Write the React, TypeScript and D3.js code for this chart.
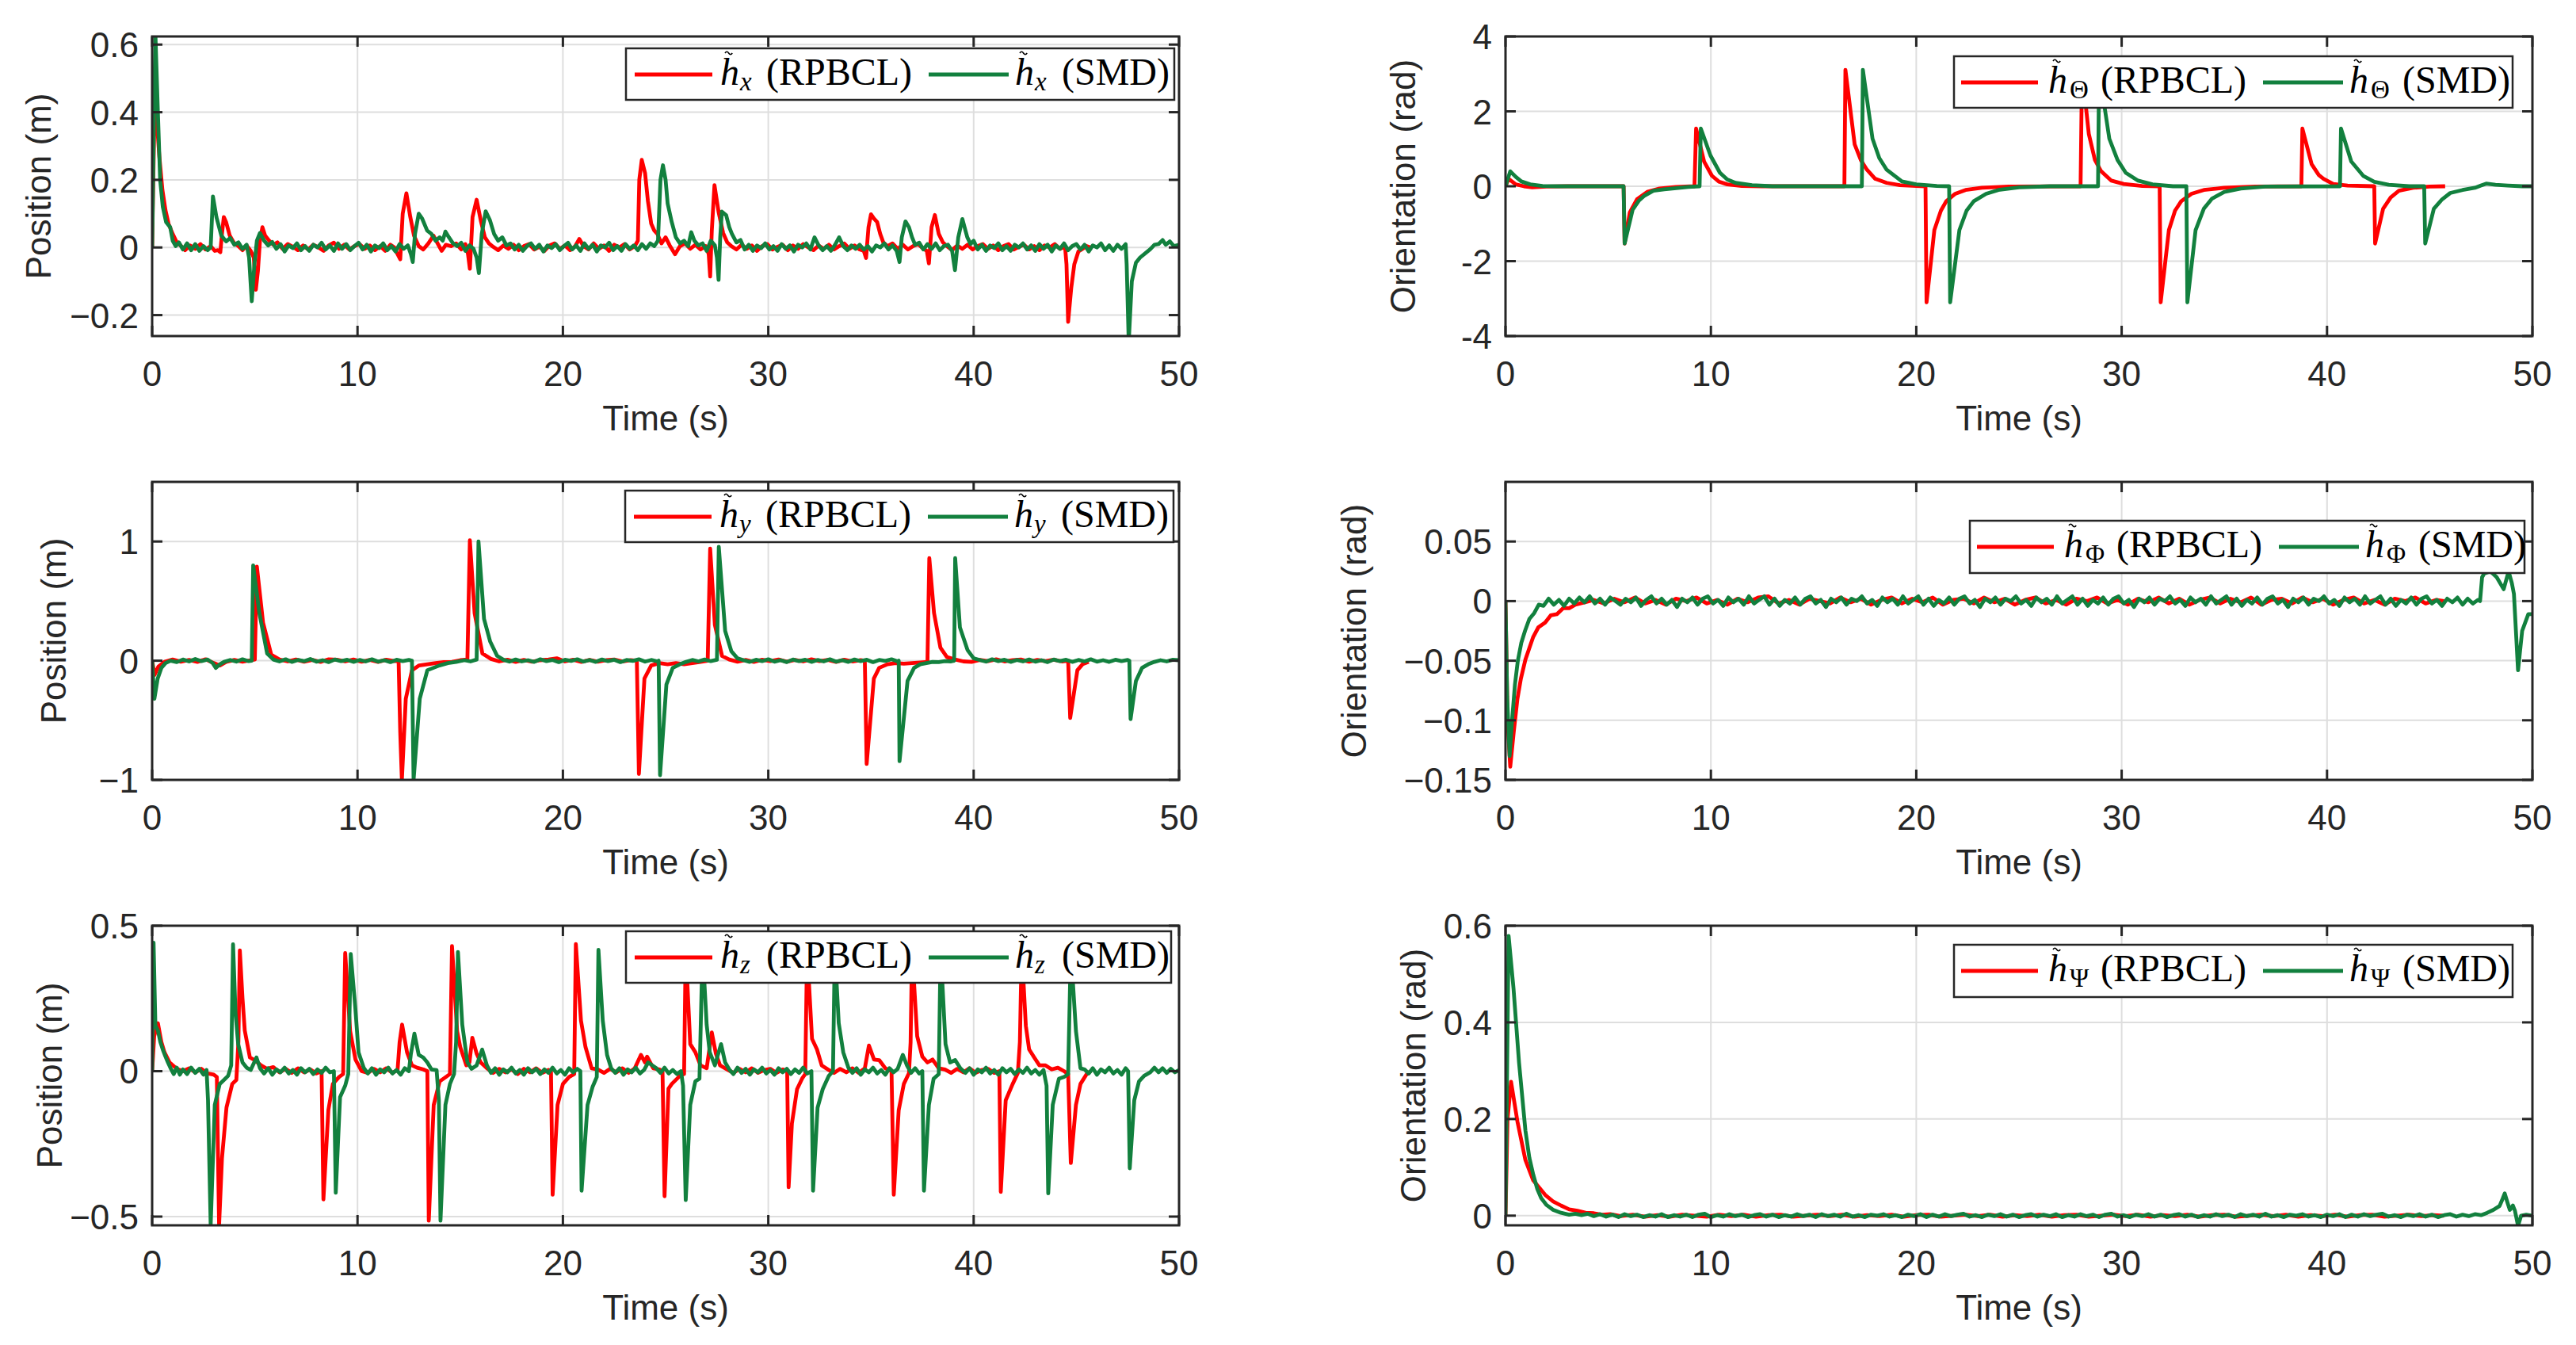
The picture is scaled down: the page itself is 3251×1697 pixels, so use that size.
import React, { useEffect, useRef } from 'react';
import * as d3 from 'd3';

type Pt = [number, number];

// ---- data (time in s, error in m or rad) ----
const timeDomain: [number, number] = [0, 50];
const timeTicks = [0, 10, 20, 30, 40, 50];
const methods = ['RPBCL', 'SMD'];

const hxRpbcl: Pt[] = [
  [0, 0], [0.1, 0.36], [0.2, 0.4], [0.35, 0.27], [0.5, 0.17], [0.65, 0.11], [0.8, 0.07], [1, 0.04], [1.2, 0.015], [1.4, 0.005],
  [1.6, -0.008], [1.85, 0.006], [2.1, -0.004], [2.35, 0.01], [2.6, -0.006], [2.85, 0.004], [3.05, -0.01], [3.2, -0.008], [3.32, -0.014],
  [3.4, 0.04], [3.49, 0.09], [3.6, 0.075], [3.78, 0.035], [4, 0.012], [4.2, 0.004], [4.4, -0.008], [4.6, 0.006], [4.8, -0.01], [4.95, -0.03],
  [5.05, -0.125], [5.15, -0.07], [5.25, 0.02], [5.37, 0.06], [5.5, 0.035], [5.7, 0.02], [5.9, 0.008], [6.1, 0.015],
  [6.35, -0.004], [6.6, 0.01], [6.85, 0.002], [7.1, -0.008], [7.35, 0.006], [7.6, -0.006], [7.85, 0.008], [8.1, 0], [8.35, -0.01], [8.6, 0.006],
  [8.85, 0.014], [9.1, -0.004], [9.35, 0.008], [9.6, -0.006], [9.85, 0.004], [10.1, 0.01], [10.35, -0.004], [10.6, 0.006], [10.85, -0.008],
  [11.1, 0.004], [11.35, -0.01], [11.6, 0.008], [11.8, 0],
  [11.95, -0.02], [12.08, -0.035], [12.2, 0.1], [12.38, 0.16], [12.57, 0.09], [12.75, 0.035], [12.98, 0.004], [13.2, -0.006], [13.45, 0.012],
  [13.7, 0.035], [13.9, 0.012], [14.1, -0.01], [14.3, 0.008], [14.55, 0.004], [14.8, 0.012], [15.05, -0.006], [15.25, 0.01], [15.38, -0.02],
  [15.47, -0.063], [15.6, 0.09], [15.8, 0.141], [16, 0.08], [16.2, 0.03], [16.4, 0.012], [16.6, 0.002], [16.85, -0.008],
  [17.1, 0.006], [17.35, -0.004], [17.6, 0.008], [17.85, -0.008], [18.1, 0.004], [18.35, 0.01], [18.6, -0.006], [18.85, 0.002], [19.1, -0.01],
  [19.35, 0.006], [19.6, 0.012], [19.85, -0.004], [20.1, 0.006], [20.35, -0.008], [20.6, 0.004], [20.8, 0.025], [21, 0.004], [21.25, -0.006],
  [21.5, 0.012], [21.75, -0.004], [22, 0.006], [22.25, -0.01], [22.5, 0.008], [22.75, 0], [23, 0.01], [23.25, -0.006], [23.5, 0.004],
  [23.65, 0.02], [23.72, 0.2], [23.84, 0.259], [24, 0.22], [24.14, 0.137], [24.3, 0.07], [24.45, 0.05], [24.6, 0.04], [24.8, 0.012], [25, 0.03],
  [25.2, 0.006], [25.46, -0.02], [25.7, 0.004], [25.95, 0.012], [26.2, -0.004], [26.45, 0.008], [26.7, -0.006], [26.95, 0.004], [27.1, -0.02],
  [27.17, -0.086], [27.25, 0.05], [27.38, 0.184], [27.58, 0.105], [27.8, 0.043], [28, 0.015], [28.2, 0.004],
  [28.45, -0.006], [28.7, 0.008], [28.95, -0.004], [29.2, 0.006], [29.45, -0.01], [29.7, 0.004], [29.95, 0.01], [30.2, -0.006], [30.45, 0.002],
  [30.7, 0.008], [30.95, -0.008], [31.2, 0.006], [31.45, -0.004], [31.7, 0.01], [31.95, 0], [32.2, -0.008], [32.45, 0.006], [32.7, -0.004],
  [32.95, 0.008], [33.2, -0.006], [33.45, 0.004], [33.7, 0.012], [33.95, -0.004], [34.2, 0.006], [34.45, -0.006], [34.65, -0.01],
  [34.76, -0.031], [34.88, 0.06], [35, 0.098], [35.15, 0.085], [35.3, 0.075], [35.45, 0.04], [35.6, 0.015], [35.8, 0.004], [36.05, 0.012],
  [36.3, -0.004], [36.55, 0.008], [36.8, -0.006], [37.05, 0.004], [37.3, 0.01], [37.55, -0.004], [37.72, -0.01], [37.82, -0.047], [37.95, 0.06],
  [38.11, 0.096], [38.3, 0.04], [38.5, 0.015], [38.7, 0.004], [38.95, -0.008], [39.2, 0.006], [39.45, -0.004], [39.7, 0.008], [39.95, -0.006],
  [40.2, 0.004], [40.45, 0.01], [40.7, -0.004], [40.95, 0.006], [41.2, -0.008], [41.45, 0.004], [41.7, 0.01], [41.95, -0.006], [42.2, 0.002],
  [42.45, 0.008], [42.7, -0.006], [42.95, 0.004], [43.2, -0.008], [43.45, 0.006], [43.7, 0], [43.95, 0.01], [44.2, -0.004], [44.45, 0.002],
  [44.52, -0.05], [44.6, -0.22], [44.75, -0.12], [44.9, -0.05], [45.1, -0.012], [45.3, -0.004], [45.5, 0.004], [45.7, 0],
];

const hxSmd: Pt[] = [
  [0, 0], [0.08, 0.35], [0.16, 0.63], [0.28, 0.4], [0.39, 0.2], [0.52, 0.12], [0.68, 0.075], [0.88, 0.06], [1, 0.02], [1.15, 0.004],
  [1.3, 0.015], [1.5, -0.006], [1.7, 0.012], [1.9, -0.008], [2.1, 0.01], [2.3, -0.01], [2.5, 0.004], [2.7, -0.008], [2.85, 0],
  [2.96, 0.151], [3.13, 0.09], [3.37, 0.035], [3.6, 0.018], [3.8, 0.028], [4, 0.008], [4.2, 0.015], [4.4, -0.004], [4.6, 0.008],
  [4.72, -0.03], [4.85, -0.159], [4.98, -0.05], [5.1, 0.02], [5.25, 0.043], [5.45, 0.02], [5.65, 0.006], [5.85, 0.016],
  [6.05, -0.004], [6.25, 0.01], [6.45, -0.012], [6.65, 0.006], [6.85, -0.002], [7.05, 0.012], [7.25, -0.008], [7.45, 0.004], [7.65, -0.01],
  [7.85, 0.008], [8.05, 0], [8.25, 0.014], [8.45, -0.006], [8.65, 0.006], [8.85, -0.01], [9.05, 0.012], [9.25, -0.004], [9.45, 0.01],
  [9.65, -0.008], [9.85, 0.004], [10.05, 0.014], [10.25, -0.006], [10.45, 0.008], [10.65, -0.012], [10.85, 0.006], [11.05, -0.002],
  [11.25, 0.012], [11.45, -0.008], [11.65, 0.004], [11.85, -0.012], [12.05, 0.01], [12.25, -0.004], [12.45, 0.006],
  [12.6, -0.02], [12.69, -0.043], [12.8, 0.04], [12.98, 0.1], [13.15, 0.085], [13.39, 0.05], [13.6, 0.04], [13.8, 0.02], [14, 0.03],
  [14.15, 0.02], [14.28, 0.047], [14.45, 0.03], [14.65, 0.012], [14.85, 0.004], [15.05, 0.014], [15.25, -0.01], [15.45, 0.006],
  [15.65, -0.004], [15.8, -0.03], [15.91, -0.076], [16.05, 0.04], [16.24, 0.107], [16.45, 0.08], [16.65, 0.04], [16.85, 0.02],
  [17.05, 0.03], [17.25, 0.006],
  [17.45, 0.012], [17.65, -0.006], [17.85, 0.008], [18.05, -0.01], [18.25, 0.004], [18.45, 0.012], [18.65, -0.004], [18.85, 0.008],
  [19.05, -0.012], [19.25, 0.006], [19.45, -0.002], [19.65, 0.01], [19.85, -0.008], [20.05, 0.004], [20.25, 0.014], [20.45, -0.006],
  [20.65, 0.006], [20.85, -0.01], [21.05, 0.012], [21.25, -0.004], [21.45, 0.008], [21.65, -0.012], [21.85, 0.006], [22.05, 0],
  [22.25, 0.014], [22.45, -0.008], [22.65, 0.004], [22.85, -0.01], [23.05, 0.01], [23.25, -0.004], [23.45, 0.006], [23.65, -0.008],
  [23.85, 0.01], [24.05, -0.004], [24.25, 0.012], [24.45, 0.004],
  [24.63, 0.02], [24.75, 0.2], [24.87, 0.243], [25, 0.2], [25.1, 0.13], [25.3, 0.075], [25.5, 0.03], [25.7, 0.012], [25.9, 0.02],
  [26.1, 0.004], [26.25, 0.045], [26.4, 0.02], [26.6, 0.006], [26.8, 0.012], [27, -0.01], [27.2, 0.02], [27.4, 0.006], [27.5, -0.03],
  [27.58, -0.096], [27.66, 0.03], [27.74, 0.106], [27.95, 0.095], [28.1, 0.06], [28.23, 0.04], [28.45, 0.015], [28.65, 0.022],
  [28.85, -0.006], [29.05, 0.008], [29.25, -0.01], [29.45, 0.006], [29.65, -0.002], [29.85, 0.012], [30.05, -0.006], [30.25, 0.004],
  [30.45, -0.01], [30.65, 0.01], [30.85, -0.004], [31.05, 0.006], [31.25, -0.012], [31.45, 0.008], [31.65, 0], [31.85, 0.012],
  [32.05, -0.006], [32.25, 0.03], [32.45, 0.006], [32.65, -0.008], [32.85, 0.004], [33.05, -0.01], [33.25, 0.008], [33.45, 0.03],
  [33.65, 0.004], [33.85, -0.008], [34.05, 0.006], [34.25, -0.004], [34.45, 0.008], [34.65, -0.006], [34.85, 0.004], [35.05, -0.012],
  [35.25, 0.006], [35.45, 0], [35.65, 0.012], [35.85, -0.006], [36.05, 0.006], [36.25, -0.01],
  [36.39, -0.043], [36.5, 0.03], [36.68, 0.077], [36.85, 0.06], [37, 0.03], [37.15, 0.008], [37.35, 0.014], [37.55, -0.006],
  [37.75, 0.01], [37.95, -0.004], [38.15, 0.012], [38.35, -0.008], [38.55, 0.004], [38.75, 0.008], [38.95, -0.01], [39.09, -0.067],
  [39.25, 0.03], [39.45, 0.084], [39.6, 0.05], [39.69, 0.03], [39.85, 0.01], [40, 0.02],
  [40.2, -0.006], [40.4, 0.008], [40.6, -0.01], [40.8, 0.006], [41, -0.002], [41.2, 0.012], [41.4, -0.008], [41.6, 0.004], [41.8, -0.01],
  [42, 0.008], [42.2, 0], [42.4, 0.012], [42.6, -0.006], [42.8, 0.006], [43, -0.01], [43.2, 0.01], [43.4, -0.004], [43.6, 0.008],
  [43.8, -0.012], [44, 0.006], [44.2, -0.004], [44.4, 0.012], [44.6, -0.008], [44.8, 0.004], [45, 0.01], [45.2, -0.006], [45.4, 0.008],
  [45.6, -0.012], [45.8, 0.006], [46, 0], [46.2, 0.012], [46.4, -0.008], [46.6, 0.006], [46.8, -0.01], [47, 0.008], [47.2, -0.004],
  [47.4, 0.01],
  [47.45, -0.05], [47.55, -0.28], [47.7, -0.1], [47.9, -0.045], [48.1, -0.03], [48.4, -0.015], [48.6, -0.005], [48.8, 0.008], [49, 0.01],
  [49.2, 0.022], [49.35, 0.008], [49.55, 0.018], [49.75, 0.004], [50, 0.008],
];

const hyRpbcl: Pt[] = [
  [0, 0], [0.12, -0.12], [0.3, -0.05], [0.6, -0.01], [1, 0.01], [1.4, -0.008], [1.8, 0.006], [2.2, -0.01], [2.6, 0.012], [3, -0.02],
  [3.3, -0.04], [3.6, -0.01], [4, 0.006], [4.4, -0.008], [4.8, 0.004], [5, 0.01], [5.1, 0.79], [5.4, 0.32], [5.8, 0.05], [6.2, 0.01],
  [6.6, -0.006], [7, 0.01], [7.4, -0.008], [7.8, 0.006], [8.2, -0.01], [8.6, 0.012], [9, 0.008], [9.4, -0.006], [9.8, 0.01],
  [10.2, -0.008], [10.6, 0.006], [11, -0.01], [11.4, 0.008], [11.8, -0.004], [12, 0], [12.08, -0.6], [12.16, -1.0], [12.35, -0.32],
  [12.65, -0.08], [13, -0.04], [13.4, -0.03], [13.8, -0.02], [14.2, -0.012], [14.6, -0.01], [15, 0.004], [15.35, 0.01], [15.47, 1.01],
  [15.7, 0.4], [16.08, 0.06], [16.5, 0.015], [16.9, -0.006], [17.3, 0.008], [17.7, -0.01], [18.1, 0.006], [18.5, -0.008], [18.9, 0.004],
  [19.3, 0.01], [19.7, 0.02], [20.1, -0.006], [20.5, 0.008], [20.9, -0.01], [21.3, 0.006], [21.7, -0.008], [22.1, 0.004], [22.5, 0.01],
  [22.9, -0.006], [23.3, 0.004], [23.6, 0], [23.7, -0.95], [23.97, -0.15], [24.3, -0.04], [24.7, -0.02], [25.1, -0.03], [25.5, -0.02],
  [25.9, -0.03], [26.3, -0.02], [26.7, -0.01], [27.05, 0], [27.17, 0.94], [27.4, 0.3], [27.75, 0.04], [28.1, 0.01], [28.5, -0.008],
  [28.9, 0.006], [29.3, -0.01], [29.7, 0.008], [30.1, -0.004], [30.5, 0.01], [30.9, -0.008], [31.3, 0.006], [31.7, -0.006], [32.1, 0.012],
  [32.5, -0.004], [32.9, 0.006], [33.3, -0.01], [33.7, 0.008], [34.1, -0.006], [34.5, 0.004], [34.7, 0], [34.79, -0.866], [35.14, -0.15],
  [35.4, -0.06], [35.8, -0.03], [36.2, -0.02], [36.6, -0.025], [37, -0.02], [37.4, -0.015], [37.75, -0.01], [37.84, 0.86], [38.07, 0.4],
  [38.38, 0.11], [38.7, 0.03], [39.1, 0.01], [39.5, -0.006], [39.9, -0.01], [40.3, 0.006], [40.7, -0.004], [41.1, 0.012], [41.5, -0.006],
  [41.9, 0.004], [42.3, 0.01], [42.7, -0.008], [43.1, 0.006], [43.5, -0.004], [43.9, 0.008], [44.3, -0.006], [44.6, 0], [44.7, -0.48],
  [45.05, -0.08], [45.3, -0.03], [45.6, -0.01],
];

const hySmd: Pt[] = [
  [0, 0], [0.11, -0.32], [0.27, -0.15], [0.45, -0.06], [0.65, -0.02], [0.9, 0], [1.2, -0.012], [1.5, 0.01], [1.8, -0.006], [2.1, 0.014],
  [2.4, -0.004], [2.7, 0.01], [2.95, -0.02], [3.1, -0.06], [3.3, -0.03], [3.5, -0.01], [3.8, 0.006], [4.1, -0.008], [4.4, 0.012],
  [4.7, -0.004], [4.85, 0], [4.92, 0.8], [5.22, 0.4], [5.6, 0.06], [5.9, 0.01], [6.2, -0.006], [6.5, 0.012], [6.8, -0.01], [7.1, 0.006],
  [7.4, -0.004], [7.7, 0.014], [8, -0.008], [8.3, 0.004], [8.6, -0.012], [8.9, 0.01], [9.2, -0.004], [9.5, 0.008], [9.8, -0.01],
  [10.1, 0.006], [10.4, -0.006], [10.7, 0.012], [11, -0.008], [11.3, 0.004], [11.6, -0.012], [11.9, 0.008], [12.2, -0.004], [12.5, 0.006],
  [12.65, 0], [12.73, -1.0], [13.03, -0.32], [13.4, -0.08], [13.99, -0.04], [14.4, -0.02], [14.8, -0.01], [15.2, 0.004], [15.5, -0.006],
  [15.8, 0.01], [15.89, 1.0], [16.16, 0.35], [16.46, 0.16], [16.8, 0.04], [17.1, 0.008], [17.4, -0.008], [17.7, 0.01], [18, -0.006],
  [18.3, 0.004], [18.6, -0.01], [18.9, 0.012], [19.2, -0.004], [19.5, 0.006], [19.8, -0.012], [20.1, 0.008], [20.4, -0.002], [20.7, 0.012],
  [21, -0.008], [21.3, 0.006], [21.6, -0.01], [21.9, 0.01], [22.2, -0.004], [22.5, 0.008], [22.8, -0.012], [23.1, 0.006], [23.4, -0.002],
  [23.7, 0.012], [24, -0.008], [24.3, 0.006], [24.6, -0.006], [24.66, 0], [24.73, -0.96], [25.04, -0.2], [25.35, -0.06], [25.7, -0.03],
  [26, -0.01], [26.3, 0.006], [26.6, -0.006], [26.9, 0.01], [27.2, -0.004], [27.5, 0.008], [27.59, 0.955], [27.9, 0.25], [28.2, 0.08],
  [28.5, 0.02], [28.8, 0.004], [29.1, -0.01], [29.4, 0.008], [29.7, -0.004], [30, 0.012], [30.3, -0.008], [30.6, 0.004], [30.9, -0.012],
  [31.2, 0.01], [31.5, -0.004], [31.8, 0.008], [32.1, -0.01], [32.4, 0.006], [32.7, -0.006], [33, 0.012], [33.3, -0.008], [33.6, 0.004],
  [33.9, -0.01], [34.2, 0.01], [34.5, -0.004], [34.8, 0.008], [35.1, -0.012], [35.4, 0.006], [35.7, -0.002], [36, 0.012], [36.3, -0.006],
  [36.35, 0], [36.39, -0.843], [36.78, -0.17], [37.1, -0.06], [37.4, -0.03], [37.7, -0.02], [38, -0.01], [38.3, -0.012], [38.6, -0.004],
  [38.9, -0.006], [39.05, 0], [39.1, 0.86], [39.33, 0.28], [39.7, 0.09], [40, 0.02], [40.3, 0.006], [40.6, -0.008], [40.9, 0.012],
  [41.2, -0.004], [41.5, 0.008], [41.8, -0.01], [42.1, 0.006], [42.4, -0.006], [42.7, 0.01], [43, -0.008], [43.3, 0.004], [43.6, -0.012],
  [43.9, 0.01], [44.2, -0.004], [44.5, 0.008], [44.8, -0.01], [45.1, 0.006], [45.4, -0.006], [45.7, 0.012], [46, -0.008], [46.3, 0.004],
  [46.6, -0.01], [46.9, 0.008], [47.2, -0.004], [47.5, 0.006], [47.58, 0], [47.64, -0.49], [47.9, -0.17], [48.2, -0.06], [48.5, -0.03],
  [48.8, -0.01], [49.1, 0.004], [49.4, -0.006], [49.7, 0.008], [50, 0.004],
];

const hzRpbcl: Pt[] = [
  [0, 0], [0.1, 0.12], [0.28, 0.165], [0.45, 0.1], [0.6, 0.065], [0.85, 0.03], [1.2, 0.008], [1.5, 0], [1.8, 0.01], [2.1, -0.004],
  [2.4, 0.008], [2.7, -0.008], [3, -0.012], [3.15, -0.02], [3.26, -0.53], [3.4, -0.3], [3.62, -0.125], [3.9, -0.044], [4.1, -0.03],
  [4.2, 0.1], [4.27, 0.415], [4.4, 0.25], [4.51, 0.14], [4.76, 0.047], [5, 0.038], [5.3, 0.02], [5.6, 0.008], [5.9, 0.014], [6.2, -0.004],
  [6.5, 0.008], [6.8, -0.006], [7.1, 0.01], [7.4, -0.004], [7.7, 0.006], [8, -0.008], [8.25, 0], [8.34, -0.441], [8.58, -0.134],
  [8.8, -0.044], [9.1, -0.02], [9.3, -0.01], [9.4, 0.406], [9.64, 0.138], [9.9, 0.04], [10.2, 0], [10.5, -0.006], [10.8, 0.008],
  [11.1, -0.004], [11.4, 0.01], [11.7, -0.006], [11.95, 0.004], [12.05, 0.1], [12.17, 0.16], [12.41, 0.065], [12.65, 0.02], [12.9, 0.012],
  [13.2, 0.006], [13.4, 0], [13.47, -0.514], [13.71, -0.116], [14, -0.035], [14.3, -0.02], [14.5, -0.01], [14.6, 0.43], [14.85, 0.138],
  [15, 0.083], [15.3, 0.02], [15.45, 0.03], [15.59, 0.115], [15.8, 0.06], [16, 0.03], [16.3, 0.01], [16.6, -0.006], [16.9, 0.008],
  [17.2, -0.004], [17.5, 0.006], [17.8, -0.01], [18.1, 0.008], [18.4, -0.004], [18.7, 0.01], [19, -0.006], [19.3, 0.004], [19.42, 0],
  [19.5, -0.425], [19.74, -0.116], [20, -0.044], [20.3, -0.02], [20.55, -0.01], [20.63, 0.437], [20.88, 0.174], [21.1, 0.083],
  [21.4, 0.01], [21.7, 0.006], [22, -0.006], [22.3, 0.008], [22.6, -0.004], [22.9, 0.01], [23.2, -0.006], [23.5, 0.01], [23.8, 0.056],
  [24, 0.03], [24.1, 0.05], [24.4, 0.01], [24.7, 0.006], [24.85, 0], [24.95, -0.43], [25.14, -0.06], [25.3, -0.044], [25.7, -0.016],
  [25.9, -0.01], [25.98, 0.42], [26.2, 0.093], [26.45, 0.065], [26.7, 0.02], [27, 0.01], [27.25, 0.133], [27.45, 0.06], [27.65, 0.02],
  [28, 0.006], [28.3, -0.006], [28.6, 0.008], [28.9, -0.004], [29.2, 0.01], [29.5, -0.006], [29.8, 0.004], [30.1, 0.008], [30.4, -0.006],
  [30.7, 0.006], [30.92, 0], [30.99, -0.399], [31.15, -0.18], [31.4, -0.062], [31.65, -0.025], [31.8, -0.01], [31.89, 0.42],
  [32.13, 0.111], [32.37, 0.075], [32.6, 0.02], [32.9, 0.006], [33.2, -0.006], [33.5, 0.008], [33.8, -0.004], [34.1, 0.01],
  [34.4, -0.006], [34.7, 0.01], [34.9, 0.088], [35.15, 0.04], [35.4, 0.038], [35.7, 0.01], [36, 0], [36.11, -0.425], [36.35, -0.134],
  [36.6, -0.044], [36.85, -0.007], [36.93, 0.1], [37, 0.42], [37.25, 0.12], [37.5, 0.05], [37.75, 0.03], [38, 0.04], [38.3, 0.01],
  [38.6, 0.006], [38.9, -0.006], [39.2, 0.008], [39.5, -0.004], [39.8, 0.01], [40.1, -0.006], [40.4, 0.004], [40.7, 0.008], [41, -0.006],
  [41.25, 0], [41.32, -0.415], [41.56, -0.1], [41.9, -0.044], [42.15, -0.007], [42.25, 0.1], [42.34, 0.42], [42.54, 0.156], [42.7, 0.075],
  [42.95, 0.047], [43.2, 0.02], [43.5, 0.02], [43.8, 0.006], [44.1, 0.012], [44.4, 0], [44.6, -0.01], [44.73, -0.316], [44.98, -0.116],
  [45.2, -0.044], [45.5, -0.01], [45.7, 0],
];

const hzSmd: Pt[] = [
  [0, 0], [0.07, 0.442], [0.16, 0.156], [0.28, 0.14], [0.4, 0.1], [0.52, 0.074], [0.65, 0.05], [0.77, 0.03], [0.9, 0.01], [1.05, -0.01],
  [1.2, 0.012], [1.35, -0.012], [1.5, 0.006], [1.7, -0.01], [1.9, 0.012], [2.1, -0.006], [2.3, 0.008], [2.5, -0.012], [2.65, 0.004],
  [2.72, -0.1], [2.85, -0.53], [3.05, -0.116], [3.29, -0.044], [3.5, -0.03], [3.7, -0.016], [3.85, 0.02], [3.94, 0.436], [4.06, 0.2],
  [4.19, 0.093], [4.4, 0.03], [4.6, 0.012], [4.8, 0.004], [5.08, 0.047], [5.25, 0.01], [5.45, -0.008], [5.65, 0.01], [5.85, -0.012],
  [6.05, 0.006], [6.25, -0.004], [6.45, 0.012], [6.65, -0.008], [6.85, 0.004], [7.05, -0.012], [7.25, 0.01], [7.45, -0.004], [7.65, 0.008],
  [7.85, -0.01], [8.05, 0.006], [8.25, -0.006], [8.45, 0.012], [8.65, -0.004], [8.85, 0], [8.94, -0.418], [9.15, -0.089], [9.4, -0.05],
  [9.55, -0.01], [9.67, 0.403], [9.89, 0.22], [10.05, 0.065], [10.3, 0.012], [10.5, -0.008], [10.7, 0.01], [10.9, -0.012], [11.1, 0.006],
  [11.3, -0.004], [11.5, 0.012], [11.7, -0.008], [11.9, 0.004], [12.1, -0.012], [12.3, 0.01], [12.5, 0], [12.6, 0.06], [12.77, 0.129],
  [12.98, 0.056], [13.2, 0.047], [13.4, 0.03], [13.6, 0.006], [13.85, 0.004], [13.96, -0.1], [14.04, -0.514], [14.28, -0.116],
  [14.5, -0.044], [14.7, -0.01], [14.8, 0.1], [14.89, 0.41], [15.1, 0.16], [15.35, 0.03], [15.55, 0.008], [15.8, 0.02], [16.07, 0.074],
  [16.3, 0.02], [16.5, -0.006], [16.7, 0.01], [16.9, -0.012], [17.1, 0.006], [17.3, -0.004], [17.5, 0.012], [17.7, -0.008], [17.9, 0.004],
  [18.1, -0.012], [18.3, 0.01], [18.5, -0.004], [18.7, 0.008], [18.9, -0.01], [19.1, 0.006], [19.3, -0.006], [19.5, 0.012], [19.7, -0.008],
  [19.9, 0.004], [20.1, -0.012], [20.3, 0.01], [20.5, -0.004], [20.7, 0.008], [20.85, 0], [20.91, -0.411], [21.2, -0.116], [21.45, -0.053],
  [21.65, -0.02], [21.73, 0.417], [21.94, 0.174], [22.15, 0.056], [22.35, 0.01], [22.55, -0.006], [22.75, 0.01], [22.95, -0.012],
  [23.15, 0.006], [23.35, -0.004], [23.55, 0.012], [23.75, -0.008], [23.95, 0.004], [24.15, 0.03], [24.35, 0.02], [24.55, 0.01],
  [24.75, -0.006], [24.95, 0.012], [25.15, -0.008], [25.35, 0.004], [25.55, -0.01], [25.75, 0], [25.85, -0.05], [25.98, -0.443],
  [26.2, -0.116], [26.45, -0.035], [26.65, -0.026], [26.8, 0.42], [27, 0.16], [27.15, 0.065], [27.4, 0.02], [27.7, 0.093], [27.9, 0.03],
  [28.1, 0.006], [28.3, -0.01], [28.5, 0.012], [28.7, -0.006], [28.9, 0.008], [29.1, -0.012], [29.3, 0.006], [29.5, -0.004], [29.7, 0.012],
  [29.9, -0.008], [30.1, 0.004], [30.3, -0.012], [30.5, 0.01], [30.7, -0.004], [30.9, 0.008], [31.1, -0.01], [31.3, 0.006], [31.5, -0.006],
  [31.7, 0.012], [31.9, -0.008], [32.1, 0], [32.18, -0.411], [32.4, -0.126], [32.65, -0.062], [32.95, -0.016], [33.15, 0], [33.24, 0.42],
  [33.43, 0.165], [33.65, 0.065], [33.9, 0.012], [34.1, -0.006], [34.3, 0.01], [34.5, -0.012], [34.7, 0.006], [34.9, -0.004],
  [35.1, 0.012], [35.3, -0.008], [35.5, 0.004], [35.7, -0.012], [35.9, 0.01], [36.1, -0.004], [36.3, 0.008], [36.55, 0.056], [36.75, 0.02],
  [36.95, -0.006], [37.15, 0.01], [37.35, -0.008], [37.5, 0], [37.58, -0.411], [37.82, -0.116], [38.05, -0.026], [38.3, -0.01],
  [38.39, 0.42], [38.63, 0.093], [38.85, 0.03], [39.1, 0.038], [39.35, 0.01], [39.6, -0.006], [39.8, 0.01], [40, -0.012], [40.2, 0.006],
  [40.4, -0.004], [40.6, 0.012], [40.8, -0.008], [41, 0.004], [41.2, -0.012], [41.4, 0.01], [41.6, -0.004], [41.8, 0.008], [42, -0.01],
  [42.2, 0.006], [42.4, -0.006], [42.6, 0.012], [42.8, -0.008], [43, 0.004], [43.2, -0.012], [43.4, 0.004], [43.55, -0.05], [43.63, -0.42],
  [43.85, -0.116], [44.15, -0.026], [44.4, -0.02], [44.6, -0.01], [44.73, 0.42], [44.98, 0.138], [45.2, 0.01], [45.4, 0.006],
  [45.6, -0.008], [45.8, 0.01], [46, -0.012], [46.2, 0.006], [46.4, -0.004], [46.6, 0.012], [46.8, -0.008], [47, 0.004], [47.2, -0.012],
  [47.4, 0.01], [47.52, 0], [47.6, -0.334], [47.82, -0.1], [48.05, -0.035], [48.3, -0.016], [48.6, -0.004], [48.8, 0.012], [49, -0.004],
  [49.2, 0.01], [49.4, -0.006], [49.6, 0.008], [49.8, -0.004], [50, 0.004],
];

const thetaRpbcl: Pt[] = [
  [0, 0], [0.15, 0.2], [0.5, 0.05], [0.9, 0], [1.3, -0.03], [2, -0.01], [3, 0], [5.75, 0], [5.8, -1.53], [6.05, -0.7], [6.4, -0.35],
  [6.9, -0.15], [7.5, -0.06], [8.3, -0.02], [9.2, 0], [9.28, 1.54], [9.67, 0.66], [10.05, 0.28], [10.4, 0.12], [10.8, 0.05], [11.5, 0.01],
  [12.5, 0], [16.5, 0], [16.55, 3.11], [17, 1.12], [17.3, 0.7], [17.6, 0.44], [18, 0.2], [18.56, 0.09], [19.2, 0.03], [20, 0.01],
  [20.45, 0], [20.5, -3.1], [20.88, -1.17], [21.2, -0.65], [21.46, -0.4], [21.9, -0.2], [22.4, -0.1], [23.2, -0.04], [24.5, -0.01],
  [28, 0], [28.07, 3.1], [28.4, 1.4], [28.7, 0.7], [29, 0.4], [29.5, 0.15], [30.1, 0.06], [31, 0.01], [31.85, 0], [31.9, -3.1],
  [32.3, -1.17], [32.6, -0.65], [32.9, -0.4], [33.4, -0.2], [34, -0.1], [35, -0.04], [36.5, -0.01], [38.75, 0], [38.8, 1.54],
  [39.25, 0.59], [39.6, 0.3], [39.83, 0.2], [40.3, 0.06], [41, 0.02], [42.3, 0], [42.34, -1.53], [42.73, -0.6], [43.1, -0.3],
  [43.5, -0.12], [44.2, -0.04], [45, -0.01], [45.75, 0],
];

const thetaSmd: Pt[] = [
  [0, 0], [0.23, 0.4], [0.5, 0.25], [0.77, 0.13], [1.2, 0.05], [1.8, 0.01], [2.5, 0], [5.75, 0], [5.8, -1.53], [6.19, -0.63],
  [6.5, -0.38], [6.77, -0.25], [7.2, -0.12], [7.73, -0.08], [8.9, -0.02], [9.45, 0], [9.51, 1.54], [9.98, 0.82], [10.44, 0.36],
  [10.8, 0.18], [11.2, 0.09], [12, 0.03], [13, 0], [17.35, 0], [17.4, 3.11], [17.87, 1.27], [18.2, 0.75], [18.56, 0.44], [19.3, 0.13],
  [20, 0.05], [21, 0.01], [21.6, 0], [21.65, -3.1], [22.1, -1.17], [22.45, -0.65], [22.8, -0.4], [23.4, -0.2], [24, -0.1], [25, -0.03],
  [26.5, 0], [28.85, 0], [28.9, 3.1], [29.4, 1.27], [29.8, 0.7], [30.2, 0.36], [30.8, 0.15], [31.5, 0.05], [32.5, 0], [33.15, 0],
  [33.2, -3.1], [33.6, -1.17], [34, -0.6], [34.4, -0.33], [35, -0.15], [35.8, -0.06], [37, -0.01], [40.63, 0], [40.68, 1.54],
  [41.18, 0.66], [41.76, 0.28], [42.3, 0.12], [43, 0.04], [44, 0], [44.73, 0], [44.78, -1.53], [45.2, -0.6], [45.6, -0.35], [46, -0.18],
  [46.6, -0.1], [47.2, -0.04], [47.5, 0.02], [47.75, 0.07], [48.2, 0.04], [48.8, 0.02], [49.5, 0], [50, 0],
];

const phiRpbcl: Pt[] = [
  [0, 0], [0.1, -0.1], [0.23, -0.139], [0.4, -0.11], [0.58, -0.082], [0.75, -0.065], [0.97, -0.049], [1.15, -0.04], [1.35, -0.03],
  [1.6, -0.022], [1.93, -0.018], [2.2, -0.012], [2.5, -0.011], [2.8, -0.006], [3.1, -0.006], [3.4, -0.003], [3.87, -0.001],
  [4.3, 0.001], [4.8, -0.002], [5.3, 0.002], [5.8, -0.001], [6.3, 0.003], [6.8, -0.002], [7.3, 0.001], [7.8, -0.003], [8.3, 0.002],
  [8.8, 0], [9.3, 0.003], [9.8, -0.002], [10.3, 0.001], [10.8, -0.003], [11.3, 0.002], [11.8, -0.001], [12.3, 0.003], [12.8, 0.004],
  [13.3, -0.002], [13.8, 0.001], [14.3, -0.003], [14.8, 0.002], [15.3, 0], [15.8, -0.002], [16.3, 0.003], [16.8, -0.001], [17.3, 0.002],
  [17.8, -0.003], [18.3, 0.001], [18.8, 0.003], [19.3, -0.002], [19.8, 0.002], [20.3, -0.001], [20.8, 0.003], [21.3, -0.003],
  [21.8, 0.001], [22.3, 0.002], [22.8, -0.002], [23.3, 0.003], [23.8, -0.001], [24.3, 0.002], [24.8, -0.003], [25.3, 0.001],
  [25.8, 0.003], [26.3, -0.002], [26.8, 0.001], [27.3, -0.003], [27.8, 0.002], [28.3, 0], [28.8, 0.003], [29.3, -0.002], [29.8, 0.001],
  [30.3, -0.003], [30.8, 0.002], [31.3, -0.001], [31.8, 0.003], [32.3, -0.002], [32.8, 0.002], [33.3, -0.003], [33.8, 0.001],
  [34.3, 0.003], [34.8, -0.002], [35.3, 0.002], [35.8, -0.001], [36.3, 0.003], [36.8, -0.003], [37.3, 0.001], [37.8, 0.002],
  [38.3, -0.002], [38.8, 0.003], [39.3, -0.001], [39.8, 0.002], [40.3, -0.003], [40.8, 0.001], [41.3, 0.003], [41.8, -0.002],
  [42.3, 0.001], [42.8, -0.003], [43.3, 0.002], [43.8, 0], [44.3, 0.003], [44.8, -0.002], [45.3, 0.001], [45.7, 0],
];

const phiSmd: Pt[] = [
  [0, 0], [0.08, -0.08], [0.2, -0.13], [0.32, -0.1], [0.46, -0.07], [0.6, -0.05], [0.77, -0.035], [0.95, -0.025], [1.16, -0.015],
  [1.4, -0.01], [1.62, -0.003], [1.85, -0.004], [2.1, 0.002], [2.35, -0.003], [2.6, 0.001], [2.85, -0.004], [3.1, 0.002], [3.35, -0.002],
  [3.6, 0.003], [3.85, -0.001], [4.1, 0.004], [4.35, -0.002], [4.6, 0.002], [4.85, -0.003], [5.1, 0.003], [5.35, 0], [5.6, -0.003],
  [5.85, 0.002], [6.1, -0.001], [6.35, 0.003], [6.6, -0.004], [6.85, 0.001], [7.1, 0.004], [7.35, -0.002], [7.6, 0.002], [7.85, -0.003],
  [8.1, 0.001], [8.35, -0.005], [8.6, 0.002], [8.85, -0.001], [9.1, 0.003], [9.35, -0.003], [9.6, 0.002], [9.85, 0.004], [10.1, -0.002],
  [10.35, 0.001], [10.6, -0.004], [10.85, 0.003], [11.1, -0.001], [11.35, 0.002], [11.6, -0.003], [11.85, 0.004], [12.1, -0.002],
  [12.35, 0.001], [12.6, 0.004], [12.85, -0.003], [13.1, 0.002], [13.35, -0.004], [13.6, 0.001], [13.85, -0.002], [14.1, 0.003],
  [14.35, -0.003], [14.6, 0.002], [14.85, 0.004], [15.1, -0.002], [15.35, 0.001], [15.6, -0.005], [15.85, 0.002], [16.1, -0.001],
  [16.35, 0.003], [16.6, -0.003], [16.85, 0.002], [17.1, 0], [17.35, 0.004], [17.6, -0.002], [17.85, 0.001], [18.1, -0.004],
  [18.35, 0.003], [18.6, -0.001], [18.85, 0.002], [19.1, -0.003], [19.35, 0.004], [19.6, -0.002], [19.85, 0.001], [20.1, 0.004],
  [20.35, -0.003], [20.6, 0.002], [20.85, -0.004], [21.1, 0.001], [21.35, -0.002], [21.6, 0.003], [21.85, -0.003], [22.1, 0.002],
  [22.35, 0.004], [22.6, -0.002], [22.85, 0.001], [23.1, -0.005], [23.35, 0.002], [23.6, -0.001], [23.85, 0.003], [24.1, -0.003],
  [24.35, 0.002], [24.6, 0], [24.85, 0.004], [25.1, -0.002], [25.35, 0.001], [25.6, -0.004], [25.85, 0.003], [26.1, -0.001],
  [26.35, 0.002], [26.6, -0.003], [26.85, 0.004], [27.1, -0.002], [27.35, 0.001], [27.6, 0.004], [27.85, -0.003], [28.1, 0.002],
  [28.35, -0.004], [28.6, 0.001], [28.85, -0.002], [29.1, 0.003], [29.35, -0.003], [29.6, 0.002], [29.85, 0.004], [30.1, -0.002],
  [30.35, 0.001], [30.6, -0.005], [30.85, 0.002], [31.1, -0.001], [31.35, 0.003], [31.6, -0.003], [31.85, 0.002], [32.1, 0],
  [32.35, 0.004], [32.6, -0.002], [32.85, 0.001], [33.1, -0.004], [33.35, 0.003], [33.6, -0.001], [33.85, 0.002], [34.1, -0.003],
  [34.35, 0.004], [34.6, -0.002], [34.85, 0.001], [35.1, 0.004], [35.35, -0.003], [35.6, 0.002], [35.85, -0.004], [36.1, 0.001],
  [36.35, -0.002], [36.6, 0.003], [36.85, -0.003], [37.1, 0.002], [37.35, 0.004], [37.6, -0.002], [37.85, 0.001], [38.1, -0.005],
  [38.35, 0.002], [38.6, -0.001], [38.85, 0.003], [39.1, -0.003], [39.35, 0.002], [39.6, 0], [39.85, 0.004], [40.1, -0.002],
  [40.35, 0.001], [40.6, -0.004], [40.85, 0.003], [41.1, -0.001], [41.35, 0.002], [41.6, -0.003], [41.85, 0.004], [42.1, -0.002],
  [42.35, 0.001], [42.6, 0.004], [42.85, -0.003], [43.1, 0.002], [43.35, -0.004], [43.6, 0.001], [43.85, -0.002], [44.1, 0.003],
  [44.35, -0.003], [44.6, 0.002], [44.85, 0.004], [45.1, -0.002], [45.35, 0.001], [45.6, -0.004], [45.85, 0.002], [46.1, -0.001],
  [46.35, 0.003], [46.6, -0.003], [46.85, 0.002], [47.1, -0.002], [47.35, 0.001],
  [47.45, 0], [47.55, 0.02], [47.65, 0.023], [47.95, 0.025], [48.26, 0.02], [48.6, 0.01], [48.84, 0.025], [49, 0.015], [49.1, 0.006],
  [49.3, -0.058], [49.5, -0.025], [49.8, -0.011], [50, -0.011],
];

const psiRpbcl: Pt[] = [
  [0, 0], [0.1, 0.2], [0.27, 0.277], [0.58, 0.195], [0.97, 0.115], [1.35, 0.073], [1.93, 0.043], [2.3, 0.03], [2.7, 0.021],
  [3.1, 0.013], [3.5, 0.01], [3.9, 0.006], [4.3, 0.005], [4.7, 0.002], [5.1, 0.003], [5.6, -0.001], [6.2, 0.002], [6.8, -0.002],
  [7.4, 0.001], [8, -0.002], [8.6, 0.002], [9.2, 0], [9.8, -0.002], [10.4, 0.002], [11, -0.001], [11.6, 0.002], [12.2, -0.002],
  [12.8, 0.001], [13.4, 0.002], [14, -0.002], [14.6, 0], [15.2, 0.002], [15.8, -0.001], [16.4, 0.002], [17, -0.002], [17.6, 0.001],
  [18.2, -0.001], [18.8, 0.002], [19.4, -0.002], [20, 0.001], [20.6, 0.002], [21.2, -0.002], [21.8, 0], [22.4, 0.002], [23, -0.001],
  [23.6, 0.002], [24.2, -0.002], [24.8, 0.001], [25.4, -0.001], [26, 0.002], [26.6, -0.002], [27.2, 0.001], [27.8, 0.002], [28.4, -0.002],
  [29, 0], [29.6, 0.002], [30.2, -0.001], [30.8, 0.002], [31.4, -0.002], [32, 0.001], [32.6, -0.001], [33.2, 0.002], [33.8, -0.002],
  [34.4, 0.001], [35, 0.002], [35.6, -0.002], [36.2, 0], [36.8, 0.002], [37.4, -0.001], [38, 0.002], [38.6, -0.002], [39.2, 0.001],
  [39.8, -0.001], [40.4, 0.002], [41, -0.002], [41.6, 0.001], [42.2, 0.002], [42.8, -0.002], [43.4, 0], [44, 0.002], [44.6, -0.001],
  [45.2, 0.001], [45.7, 0],
];

const psiSmd: Pt[] = [
  [0, 0], [0.15, 0.579], [0.39, 0.47], [0.66, 0.316], [0.97, 0.176], [1.16, 0.12], [1.35, 0.085], [1.55, 0.055], [1.74, 0.036],
  [2, 0.022], [2.32, 0.012], [2.7, 0.006], [3.1, 0.002], [3.4, 0.004], [3.7, 0.001], [4, 0.004], [4.3, -0.001], [4.6, 0.003],
  [4.9, -0.002], [5.2, 0.002], [5.5, -0.003], [5.8, 0.003], [6.1, -0.001], [6.4, 0.002], [6.7, -0.003], [7, 0.001], [7.3, -0.002],
  [7.6, 0.003], [7.9, -0.003], [8.2, 0.001], [8.5, -0.002], [8.8, 0.002], [9.1, -0.003], [9.4, 0.002], [9.7, 0.004], [10, -0.003],
  [10.3, 0.001], [10.6, -0.002], [10.9, 0.003], [11.2, -0.001], [11.5, 0.002], [11.8, -0.003], [12.1, 0.001], [12.4, 0.003],
  [12.7, -0.002], [13, 0.002], [13.3, -0.003], [13.6, 0.001], [13.9, -0.002], [14.2, 0.003], [14.5, -0.001], [14.8, 0.002],
  [15.1, -0.003], [15.4, 0.003], [15.7, -0.001], [16, 0.002], [16.3, -0.002], [16.6, 0.004], [16.9, -0.002], [17.2, 0.001],
  [17.5, -0.003], [17.8, 0.002], [18.1, 0], [18.4, 0.003], [18.7, -0.002], [19, 0.001], [19.3, -0.003], [19.6, 0.002], [19.9, -0.001],
  [20.2, 0.003], [20.5, -0.003], [20.8, 0.002], [21.1, -0.002], [21.4, 0.003], [21.7, -0.001], [22, 0.002], [22.3, 0.004],
  [22.6, -0.002], [22.9, 0.001], [23.2, -0.003], [23.5, 0.002], [23.8, -0.001], [24.1, 0.003], [24.4, -0.002], [24.7, 0.002],
  [25, -0.003], [25.3, 0.001], [25.6, 0.003], [25.9, -0.002], [26.2, 0.002], [26.5, -0.001], [26.8, 0.003], [27.1, -0.003],
  [27.4, 0.001], [27.7, -0.002], [28, 0.003], [28.3, -0.001], [28.6, 0.002], [28.9, -0.003], [29.2, 0.002], [29.5, 0.004],
  [29.8, -0.002], [30.1, 0.001], [30.4, -0.003], [30.7, 0.002], [31, -0.001], [31.3, 0.003], [31.6, -0.002], [31.9, 0.002],
  [32.2, -0.003], [32.5, 0.001], [32.8, 0.003], [33.1, -0.002], [33.4, 0.002], [33.7, -0.003], [34, 0.001], [34.3, -0.002],
  [34.6, 0.003], [34.9, -0.001], [35.2, 0.002], [35.5, -0.003], [35.8, 0.003], [36.1, -0.001], [36.4, 0.002], [36.7, -0.002],
  [37, 0.004], [37.3, -0.002], [37.6, 0.001], [37.9, -0.003], [38.2, 0.002], [38.5, 0], [38.8, 0.003], [39.1, -0.002], [39.4, 0.001],
  [39.7, -0.003], [40, 0.002], [40.3, -0.001], [40.6, 0.003], [40.9, -0.003], [41.2, 0.002], [41.5, -0.002], [41.8, 0.003],
  [42.1, -0.001], [42.4, 0.002], [42.7, 0.004], [43, -0.002], [43.3, 0.001], [43.6, -0.003], [43.9, 0.002], [44.2, -0.001],
  [44.5, 0.003], [44.8, -0.002], [45.1, 0.002], [45.4, -0.003], [45.7, 0.001], [46, 0.003], [46.3, -0.002], [46.6, 0.002],
  [46.9, -0.001], [47.2, 0.003], [47.5, 0.001], [47.8, 0.006],
  [48.1, 0.012], [48.4, 0.02], [48.55, 0.035], [48.65, 0.046], [48.8, 0.025], [48.9, 0.012], [49.05, 0.021], [49.15, 0.01],
  [49.3, -0.021], [49.45, 0], [49.7, 0.002], [50, 0],
];

const hxTicks = [-0.2, 0, 0.2, 0.4, 0.6];
const hyTicks = [-1, 0, 1];
const hzTicks = [-0.5, 0, 0.5];
const thetaTicks = [-4, -2, 0, 2, 4];
const phiTicks = [-0.15, -0.1, -0.05, 0, 0.05];
const psiTicks = [0, 0.2, 0.4, 0.6];

// ---- styling / layout ----
const W = 3251;
const H = 1697;
const SANS = '"Liberation Sans", Arial, Helvetica, sans-serif';
const SERIF = '"Liberation Serif", "Times New Roman", serif';
const INK = '#262626';
const seriesColors = ['#ff0000', '#12803e'];
const cols: [number, number][] = [[192, 1488], [1900, 3196]];
const rows: [number, number][] = [[46, 424], [608, 984], [1168, 1546]];

// legend slot offsets from the legend box's left edge
const latinSlots = { lines: [[11, 109], [382, 483]], h: [119, 491], sub: 25, paren: [177, 550] };
const greekSlots = { lines: [[9, 106], [390, 491]], h: [119, 499], sub: 27, paren: [185, 566] };

const uMinus = (v: number) => String(v).replace('-', '\u2212');

interface Panel {
  col: number;
  row: number;
  series: Pt[][];
  yDomain: [number, number];
  yTicks: number[];
  fmt: (v: number) => string;
  yLabel: string;
  labelX: number;
  sub: string;
  greek: boolean;
  legend: { x: number; y: number; w: number; h: number };
}

const panels: Panel[] = [
  { col: 0, row: 0, series: [hxRpbcl, hxSmd], yDomain: [-0.262, 0.624], yTicks: hxTicks, fmt: uMinus, yLabel: 'Position (m)', labelX: 64, sub: 'x', greek: false, legend: { x: 790, y: 61, w: 692, h: 65 } },
  { col: 0, row: 1, series: [hyRpbcl, hySmd], yDomain: [-1, 1.5], yTicks: hyTicks, fmt: uMinus, yLabel: 'Position (m)', labelX: 83, sub: 'y', greek: false, legend: { x: 789, y: 619, w: 692, h: 65 } },
  { col: 0, row: 2, series: [hzRpbcl, hzSmd], yDomain: [-0.53, 0.5], yTicks: hzTicks, fmt: uMinus, yLabel: 'Position (m)', labelX: 78, sub: 'z', greek: false, legend: { x: 790, y: 1175, w: 688, h: 65 } },
  { col: 1, row: 0, series: [thetaRpbcl, thetaSmd], yDomain: [-4, 4], yTicks: thetaTicks, fmt: (v) => String(v), yLabel: 'Orientation (rad)', labelX: 1786, sub: '\u0398', greek: true, legend: { x: 2466, y: 71, w: 705, h: 65 } },
  { col: 1, row: 1, series: [phiRpbcl, phiSmd], yDomain: [-0.15, 0.1], yTicks: phiTicks, fmt: uMinus, yLabel: 'Orientation (rad)', labelX: 1724, sub: '\u03A6', greek: true, legend: { x: 2486, y: 657, w: 700, h: 66 } },
  { col: 1, row: 2, series: [psiRpbcl, psiSmd], yDomain: [-0.02, 0.6], yTicks: psiTicks, fmt: uMinus, yLabel: 'Orientation (rad)', labelX: 1799, sub: '\u03A8', greek: true, legend: { x: 2466, y: 1192, w: 705, h: 66 } },
];

const App: React.FC = () => {
  const ref = useRef<SVGSVGElement | null>(null);

  useEffect(() => {
    if (!ref.current) return;
    const svg = d3.select(ref.current);
    svg.selectAll('*').remove();
    svg.append('rect').attr('width', W).attr('height', H).attr('fill', '#fff');

    panels.forEach((p, i) => {
      const [x0, x1] = cols[p.col];
      const [y0, y1] = rows[p.row];
      const x = d3.scaleLinear().domain(timeDomain).range([x0, x1]);
      const y = d3.scaleLinear().domain(p.yDomain).range([y1, y0]);
      const g = svg.append('g');
      const clipId = `plot-clip-${i}`;

      g.append('clipPath').attr('id', clipId)
        .append('rect').attr('x', x0).attr('y', y0).attr('width', x1 - x0).attr('height', y1 - y0);

      // Grid
      g.selectAll('.gx').data(timeTicks).enter().append('line')
        .attr('x1', (d) => x(d)).attr('x2', (d) => x(d)).attr('y1', y0).attr('y2', y1)
        .attr('stroke', '#dedede').attr('stroke-width', 2);
      g.selectAll('.gy').data(p.yTicks).enter().append('line')
        .attr('x1', x0).attr('x2', x1).attr('y1', (d) => y(d)).attr('y2', (d) => y(d))
        .attr('stroke', '#dedede').attr('stroke-width', 2);

      // Series
      const line = d3.line<Pt>().x((d) => x(d[0])).y((d) => y(d[1]));
      p.series.forEach((s, k) => {
        g.append('path').attr('d', line(s) || '')
          .attr('fill', 'none').attr('stroke', seriesColors[k]).attr('stroke-width', 4.8)
          .attr('stroke-linejoin', 'round').attr('clip-path', `url(#${clipId})`);
      });

      // Box
      g.append('rect').attr('x', x0).attr('y', y0).attr('width', x1 - x0).attr('height', y1 - y0)
        .attr('fill', 'none').attr('stroke', INK).attr('stroke-width', 3);

      // Ticks (inside, all four sides)
      const tl = 13;
      timeTicks.forEach((t) => {
        g.append('line').attr('x1', x(t)).attr('x2', x(t)).attr('y1', y1).attr('y2', y1 - tl).attr('stroke', INK).attr('stroke-width', 3);
        g.append('line').attr('x1', x(t)).attr('x2', x(t)).attr('y1', y0).attr('y2', y0 + tl).attr('stroke', INK).attr('stroke-width', 3);
      });
      p.yTicks.forEach((v) => {
        g.append('line').attr('x1', x0).attr('x2', x0 + tl).attr('y1', y(v)).attr('y2', y(v)).attr('stroke', INK).attr('stroke-width', 3);
        g.append('line').attr('x1', x1).attr('x2', x1 - tl).attr('y1', y(v)).attr('y2', y(v)).attr('stroke', INK).attr('stroke-width', 3);
      });

      // Tick labels
      g.selectAll('.xt').data(timeTicks).enter().append('text')
        .attr('x', (d) => x(d)).attr('y', y1 + 63)
        .attr('text-anchor', 'middle').attr('font-family', SANS).attr('font-size', 44).attr('fill', INK)
        .text((d) => String(d));
      g.selectAll('.yt').data(p.yTicks).enter().append('text')
        .attr('x', x0 - 17).attr('y', (d) => y(d) + 16)
        .attr('text-anchor', 'end').attr('font-family', SANS).attr('font-size', 44).attr('fill', INK)
        .text((d) => p.fmt(d));

      // Axis labels
      g.append('text').attr('x', (x0 + x1) / 2).attr('y', y1 + 119)
        .attr('text-anchor', 'middle').attr('font-family', SANS).attr('font-size', 44).attr('fill', INK)
        .text('Time (s)');
      g.append('text').attr('transform', `translate(${p.labelX},${(y0 + y1) / 2}) rotate(-90)`)
        .attr('text-anchor', 'middle').attr('font-family', SANS).attr('font-size', 44).attr('fill', INK)
        .text(p.yLabel);

      // Legend
      const L = p.legend;
      const slots = p.greek ? greekSlots : latinSlots;
      const lg = g.append('g');
      lg.append('rect').attr('x', L.x).attr('y', L.y).attr('width', L.w).attr('height', L.h)
        .attr('fill', '#fff').attr('stroke', INK).attr('stroke-width', 2.5);
      methods.forEach((m, k) => {
        const [a, b] = slots.lines[k];
        lg.append('line').attr('x1', L.x + a).attr('x2', L.x + b).attr('y1', L.y + 33).attr('y2', L.y + 33)
          .attr('stroke', seriesColors[k]).attr('stroke-width', 5);
        const hx = L.x + slots.h[k];
        const txt = lg.append('text').attr('y', L.y + 46).attr('font-family', SERIF).attr('font-size', 48).attr('fill', '#000');
        txt.append('tspan').attr('x', hx).attr('font-style', 'italic').text('h');
        txt.append('tspan').attr('x', hx + slots.sub).attr('dy', 7).attr('font-size', 33)
          .attr('font-style', p.greek ? 'normal' : 'italic').text(p.sub);
        txt.append('tspan').attr('x', L.x + slots.paren[k]).attr('dy', -7).text(`(${m})`);
        lg.append('path').attr('d', `M${hx + 6},${L.y + 6} q2.3,-3.5 4.6,0 t4.6,0`)
          .attr('fill', 'none').attr('stroke', '#000').attr('stroke-width', 1.6);
      });
    });
  }, []);

  return (
    <svg
      ref={ref}
      width={W}
      height={H}
      style={{ position: 'absolute', left: 0, top: 0, display: 'block' }}
    />
  );
};

export default App;
